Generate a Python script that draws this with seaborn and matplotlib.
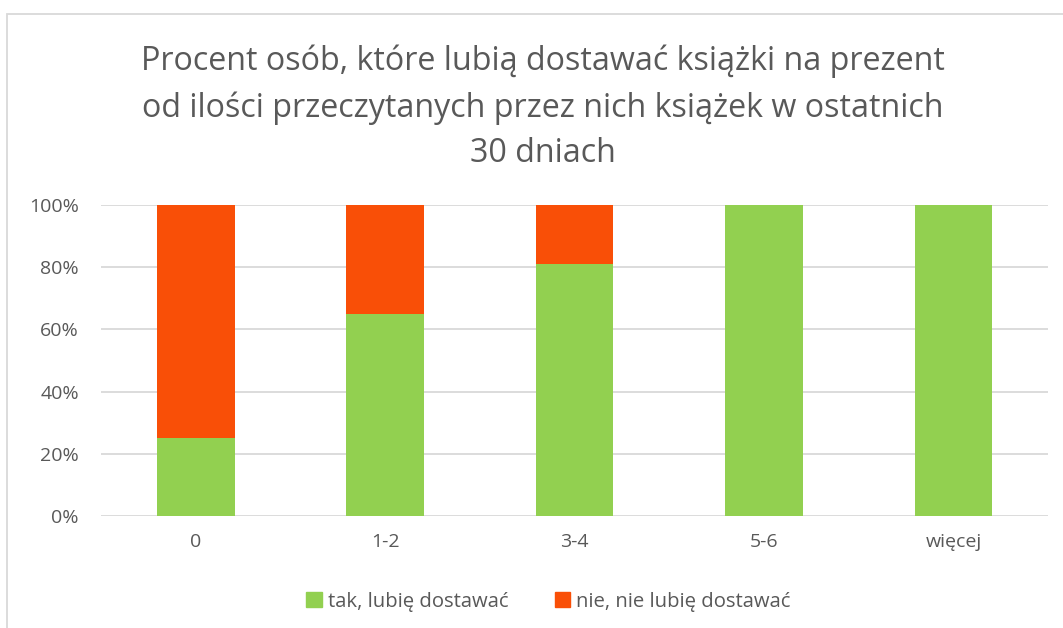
import numpy as np
import pandas as pd
import matplotlib
matplotlib.use("Agg")
import matplotlib.pyplot as plt
from matplotlib.patches import Patch, Rectangle
import seaborn as sns

# dane
kategorie = ["0", "1-2", "3-4", "5-6", "więcej"]
tak = [25, 65, 81, 100, 100]
nie = [75, 35, 19, 0, 0]
tytul = "Procent osób, które lubią dostawać książki na prezent\nod ilości przeczytanych przez nich książek w ostatnich\n30 dniach"
etykiety = ["tak, lubię dostawać", "nie, nie lubię dostawać"]

zielony = "#92D050"
pomaranczowy = "#F94F07"
szary = "#595959"

sns.set_style("white")
plt.rcParams["font.family"] = ["Open Sans", "DejaVu Sans"]

df = pd.DataFrame({"kat": kategorie,
                   "tak": np.array(tak) / 100,
                   "suma": (np.array(tak) + np.array(nie)) / 100})

fig = plt.figure(figsize=(10.63, 6.28), dpi=100)
ax = fig.add_axes([0.095, 0.178, 0.891, 0.4956])

# najpierw cały słupek (pomarańczowy), potem część "tak" na wierzchu
sns.barplot(data=df, x="kat", y="suma", color=pomaranczowy, width=0.41,
            saturation=1, linewidth=0, ax=ax, zorder=2)
sns.barplot(data=df, x="kat", y="tak", color=zielony, width=0.41,
            saturation=1, linewidth=0, ax=ax, zorder=3)

ax.set_ylim(0, 1)
ax.set_xlim(-0.5, len(kategorie) - 0.5)
ax.set_yticks(np.arange(0, 1.01, 0.2))
ax.set_yticklabels([f"{int(round(v * 100))}%" for v in np.arange(0, 1.01, 0.2)])
ax.grid(axis="y", color="#d9d9d9", linewidth=1.3, zorder=0)
ax.set_axisbelow(True)
for s in ax.spines.values():
    s.set_visible(False)
ax.tick_params(axis="both", length=0, labelsize=14, colors=szary)
ax.tick_params(axis="y", pad=16)
ax.tick_params(axis="x", pad=12)
ax.set_xlabel("")
ax.set_ylabel("")

fig.text(0.511, 0.829, tytul, ha="center", va="center", fontsize=23.2,
         color=szary, linespacing=1.5)

uchwyty = [Patch(color=zielony), Patch(color=pomaranczowy)]
fig.legend(uchwyty, etykiety, loc="center", bbox_to_anchor=(0.516, 0.042),
           ncol=2, frameon=False, fontsize=14.6, labelcolor=szary,
           handlelength=0.75, handleheight=0.75, handletextpad=0.3,
           columnspacing=2.3)

# ramka wykresu
fig.patches.append(Rectangle((0.0066, -0.05), 1.1, 1.0277, transform=fig.transFigure,
                             fill=False, edgecolor="#d9d9d9", linewidth=1.3))

fig.savefig("out.png", dpi=100)
